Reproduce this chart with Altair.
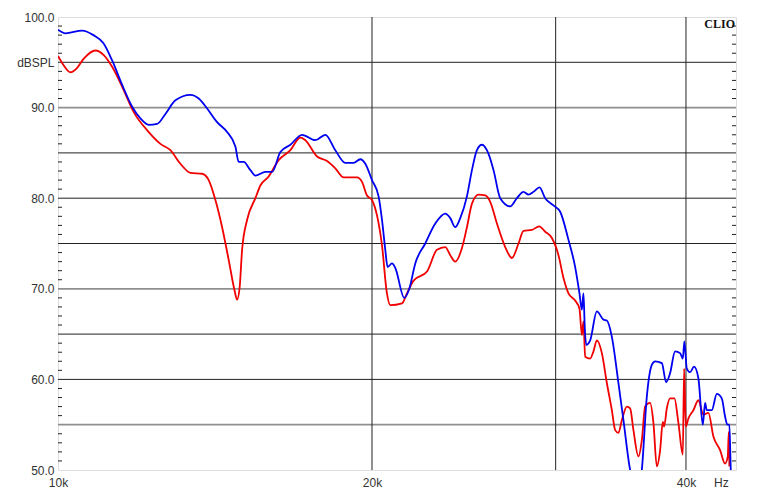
import altair as alt
import pandas as pd

# ---- data ----
blue_freq = [10000, 10167, 10548, 10815, 11056, 11270, 11522, 11779, 11996, 12218, 12446, 12676, 12959, 13395,
             13643, 13898, 14208, 14525, 14793, 14902, 15067, 15291, 15461, 15806, 16041, 16337, 16702, 17139,
             17649, 18042, 18445, 18856, 19205, 19491, 19707, 20000, 20294, 20447, 20596, 20701, 20903, 21056,
             21478, 21716, 22005, 22496, 22998, 23511, 23772, 24035, 24302, 24664, 24938, 25214, 25494, 25868,
             26155, 26544, 27136, 27540, 27944, 28254, 28568, 28948, 29314, 29856, 30301, 30861, 31320, 31619,
             31787, 31899, 31984, 32090, 32374, 32856, 33338, 33589, 33962, 34460, 34842, 35361, 35675, 36150,
             36286, 36688, 37095, 37366, 37923, 38284, 38623, 39052, 39485, 39721, 39861, 40073, 40366, 40723,
             41112, 41513, 41724, 41881, 42345, 42815, 43290, 43606, 43828, 44022, 44158, 44250]
blue_db = [98.6, 98.2, 98.5, 98.0, 97.1, 95.2, 92.5, 90.1, 88.8, 88.1, 88.2, 89.3, 90.8, 91.4,
           91.0, 89.9, 88.4, 87.3, 85.7, 84.0, 84.0, 83.1, 82.5, 82.9, 82.9, 85.1, 85.9, 87.0,
           86.4, 87.0, 85.3, 83.9, 83.9, 84.3, 83.8, 82.0, 80.2, 77.6, 74.3, 72.4, 72.8, 72.3,
           69.0, 70.0, 72.8, 75.0, 77.2, 78.3, 77.8, 76.8, 77.8, 80.2, 83.1, 85.3, 85.9, 84.9,
           83.1, 80.0, 79.1, 80.0, 80.7, 80.4, 80.7, 81.2, 80.0, 79.2, 78.5, 75.4, 72.4, 69.5,
           67.7, 69.5, 66.0, 63.8, 64.3, 67.5, 66.6, 66.5, 64.7, 59.6, 55.5, 50.0, 48.4, 48.4,
           50.0, 58.1, 61.6, 62.0, 61.8, 59.7, 60.7, 63.1, 62.9, 62.3, 64.2, 61.2, 60.8, 61.4,
           60.1, 55.0, 57.4, 56.6, 56.6, 58.4, 57.9, 55.9, 55.0, 55.0, 50.0, 48.0]

red_freq = [10000, 10122, 10280, 10417, 10586, 10863, 11063, 11270, 11522, 11820, 12218, 12537, 12817, 13103,
            13395, 13746, 13947, 14155, 14366, 14576, 14761, 14849, 14934, 15014, 15180, 15461, 15632, 15921,
            16276, 16702, 17074, 17264, 17715, 18110, 18445, 18786, 19349, 19564, 19781, 20000, 20222, 20447,
            20664, 20825, 21369, 21606, 21923, 22581, 23085, 23511, 23772, 24035, 24394, 24664, 24938, 25303,
            25680, 25965, 26352, 26839, 27238, 27638, 27944, 28467, 28929, 29314, 29751, 30188, 30522, 30861,
            31320, 31619, 31787, 31899, 32019, 32374, 32611, 32856, 33221, 33589, 33962, 34210, 34460, 34719,
            35104, 35361, 35619, 36014, 36286, 36551, 36956, 37226, 37506, 37781, 38006, 38115, 38343, 38623,
            38991, 39337, 39721, 39835, 39985, 40215, 40661, 41112, 41568, 42029, 42495, 43128, 43606, 43867,
            43964, 44022]
red_db = [95.7, 94.7, 93.9, 94.3, 95.4, 96.3, 95.8, 94.5, 92.3, 89.5, 87.3, 86.0, 85.3, 83.8,
          82.8, 82.7, 82.0, 79.8, 76.8, 73.2, 69.9, 68.8, 70.2, 74.3, 77.6, 80.0, 81.4, 82.4,
          84.2, 85.3, 86.7, 86.4, 84.6, 84.1, 83.3, 82.3, 82.3, 81.8, 80.3, 79.8, 78.1, 74.8,
          69.6, 68.2, 68.4, 69.5, 70.9, 71.9, 74.3, 74.6, 73.7, 73.0, 74.5, 76.8, 79.4, 80.4,
          80.3, 79.6, 77.2, 74.6, 73.4, 75.0, 76.4, 76.5, 76.9, 76.3, 75.6, 73.7, 71.2, 69.5,
          68.7, 67.8, 64.9, 66.4, 62.5, 62.3, 63.1, 64.3, 62.9, 59.6, 56.6, 54.4, 54.1, 55.5,
          57.0, 56.8, 54.4, 51.5, 53.3, 57.0, 57.4, 55.2, 50.4, 52.2, 55.3, 54.8, 56.8, 57.9,
          57.9, 55.2, 51.7, 61.2, 54.8, 55.7, 56.6, 57.7, 56.1, 56.3, 53.7, 52.2, 50.7, 51.5,
          54.2, 50.4]

x_domain = [10000, 44670]
y_domain = [50, 100]
x_grid = [20000, 30000, 40000]
x_label_vals = [10000, 20000, 40000, 43200]
x_label_text = ["10k", "20k", "40k", "Hz"]
y_label_vals = [50, 60, 70, 80, 90, 95, 100]
y_grid_dark = [60, 65, 75, 80, 85, 95]
y_grid_light = [55, 70, 90]
y_minor = [v for v in range(51, 100) if v % 5 != 0]

W, H = 678, 453

df = pd.concat([
    pd.DataFrame({"freq": red_freq, "db": red_db, "s": "red"}),
    pd.DataFrame({"freq": blue_freq, "db": blue_db, "s": "blue"}),
])

xs = alt.Scale(type="log", domain=x_domain, nice=False)
ys = alt.Scale(domain=y_domain, nice=False, zero=False)

x_expr = ""
for v, t in zip(x_label_vals, x_label_text):
    x_expr += f"datum.value == {v} ? '{t}' : "
x_expr += "''"
y_expr = "datum.value == 95 ? 'dBSPL' : format(datum.value, '.1f')"

lines = alt.Chart(df).mark_line(strokeWidth=1.8, clip=True, interpolate="monotone").encode(
    x=alt.X("freq:Q", scale=xs, title=None,
            axis=alt.Axis(values=x_label_vals, labelExpr=x_expr, grid=False, ticks=False, domain=False,
                          labelFlush=False, labelOverlap=False, labelPadding=7, labelFontSize=12,
                          labelFont="Liberation Sans", labelColor="#333")),
    y=alt.Y("db:Q", scale=ys, title=None,
            axis=alt.Axis(values=y_label_vals, labelExpr=y_expr, grid=False,
                          ticks=False, domain=False, labelFlush=False, labelOverlap=False, labelPadding=4,
                          labelFontSize=12, labelFont="Liberation Sans", labelColor="#333")),
    color=alt.Color("s:N", scale=alt.Scale(domain=["red", "blue"], range=["#f00000", "#0000f0"]), legend=None),
    order=alt.Order("freq:Q"),
    detail="s:N",
)

hgrid_dark = alt.Chart(pd.DataFrame({"v": y_grid_dark})).mark_rule(color="#222", strokeWidth=1).encode(
    y=alt.Y("v:Q", scale=ys)
)
hgrid_light = alt.Chart(pd.DataFrame({"v": y_grid_light})).mark_rule(color="#8f8f8f", strokeWidth=1.7).encode(
    y=alt.Y("v:Q", scale=ys)
)
vgrid = alt.Chart(pd.DataFrame({"f": x_grid})).mark_rule(color="#222", strokeWidth=1).encode(
    x=alt.X("f:Q", scale=xs)
)

minor_df = pd.DataFrame({"v": y_minor})
ticks_left = alt.Chart(minor_df).mark_rule(color="#222", strokeWidth=1).encode(
    y=alt.Y("v:Q", scale=ys), x=alt.value(0), x2=alt.value(4)
)
ticks_right = alt.Chart(minor_df).mark_rule(color="#222", strokeWidth=1).encode(
    y=alt.Y("v:Q", scale=ys), x=alt.value(W - 4), x2=alt.value(W)
)

clio = alt.Chart(pd.DataFrame({"t": ["CLIO"]})).mark_text(
    align="right", baseline="middle", font="Liberation Serif", fontWeight="bold", fontSize=12, color="#111"
).encode(text="t:N", x=alt.value(W - 1), y=alt.value(7))

chart = alt.layer(hgrid_light, hgrid_dark, vgrid, ticks_left, ticks_right, lines, clio).properties(
    width=W, height=H,
    autosize=alt.AutoSizeParams(type="none"),
    padding={"left": 50, "top": 9, "right": 21, "bottom": 30},
).configure_view(stroke="#111", strokeWidth=2).configure(background="white")

chart.save("out.html", embed_options={"renderer": "svg", "actions": False})
